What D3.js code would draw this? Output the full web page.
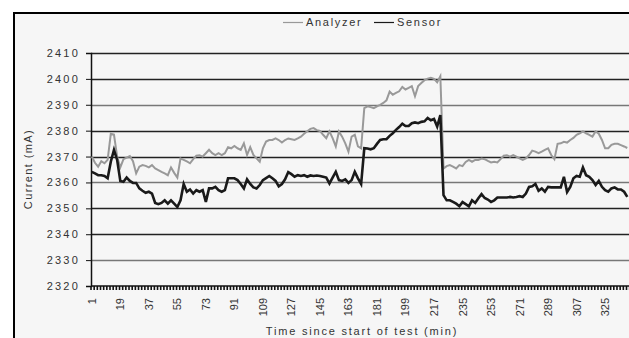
<!DOCTYPE html>
<html>
<head>
<meta charset="utf-8">
<script src="https://cdn.jsdelivr.net/npm/d3@7"></script>
<style>
  body { margin: 0; background: #fff; }
  svg text { font-family: "Liberation Sans", Arial, sans-serif; fill: #333; }
</style>
</head>
<body>
<svg id="chart" width="629" height="338"></svg>
<script>
// readings every 2 minutes, starting at minute 1
var analyzer = [
  2370, 2367.6, 2366.1, 2368.2, 2367.4, 2368.7, 2378.8, 2378.5, 2370, 2365.8,
  2369, 2369.6, 2370.2, 2368.2, 2363.5, 2366.1, 2366.7, 2366.4, 2365.8, 2366.7,
  2365.4, 2364.8, 2364.1, 2363.5, 2362.8, 2365.8, 2363.7, 2361.9, 2369.3, 2368.7,
  2368.1, 2367.4, 2369, 2370.3, 2370.5, 2370, 2371.3, 2372.6, 2371.3, 2370.6,
  2371.3, 2370.6, 2371.3, 2373.6, 2373.2, 2374.1, 2373.2, 2372.6, 2375.1, 2370.6,
  2373.6, 2370.6, 2369.3, 2368, 2373.2, 2375.8, 2376.4, 2376.4, 2377, 2376.4,
  2375.4, 2376.4, 2377, 2376.7, 2376.4, 2377, 2377.7, 2378.8, 2379.8, 2380.7,
  2381, 2380.2, 2379.9, 2378.4, 2377.1, 2379.7, 2377.1, 2373.9, 2379.7, 2377.7,
  2375.1, 2371.9, 2377.7, 2378.4, 2373.9, 2373.2, 2388.7, 2389.4, 2389.1, 2388.7,
  2389.4, 2390, 2390.7, 2391.7, 2395.1, 2393.9, 2394.6, 2395.2, 2396.9, 2395.9,
  2396.5, 2397.2, 2393.3, 2397.2, 2398.4, 2399.5, 2400.1, 2400.4, 2400, 2398.7,
  2401, 2365.4, 2366.3, 2366.7, 2366.1, 2365.4, 2366.7, 2366.3, 2367.9, 2368.7,
  2368, 2368.7, 2368.7, 2369.2, 2369, 2368.3, 2367.7, 2368, 2367.7, 2369,
  2370.3, 2370.5, 2370, 2370.6, 2370, 2369.3, 2368.7, 2369.3, 2370.6, 2372.3,
  2371.9, 2371.3, 2371.9, 2372.6, 2373.2, 2370.6, 2369, 2374.9, 2375.1, 2375.7,
  2375.4, 2376.4, 2377.2, 2378.4, 2379, 2379.7, 2379, 2378.4, 2377.7, 2379.7,
  2378.8, 2376.4, 2373.2, 2373.2, 2374.5, 2374.9, 2374.9, 2374.4, 2373.9, 2373.3
];
var sensor = [
  2364.1, 2363.5, 2362.8, 2362.8, 2362.5, 2361.6, 2368, 2372.6, 2368.7, 2360.6,
  2360.3, 2361.9, 2360.6, 2359.8, 2359.8, 2357.7, 2356.8, 2356, 2356.4, 2355.7,
  2352.1, 2351.6, 2352.1, 2353.1, 2351.8, 2353.1, 2351.8, 2350.5, 2353.1, 2359.4,
  2356.4, 2357.3, 2355.7, 2357, 2356.4, 2357, 2352.5, 2357.7, 2357.7, 2358.3,
  2357, 2356.4, 2357, 2361.6, 2361.6, 2361.6, 2360.9, 2359.4, 2357.7, 2361.2,
  2359.4, 2358.1, 2357.7, 2359, 2360.9, 2361.7, 2362.5, 2361.6, 2360.6, 2358.5,
  2359.4, 2361.2, 2364, 2363.2, 2362.2, 2362.8, 2362.5, 2362.8, 2362.2, 2362.7,
  2362.5, 2362.7, 2362.5, 2362.2, 2361.9, 2359.6, 2361.9, 2364.1, 2360.9, 2360.6,
  2361.2, 2359.8, 2360.9, 2364.1, 2361.6, 2359.4, 2373.2, 2373.1, 2372.8, 2373.2,
  2374.9, 2376.4, 2376.7, 2376.7, 2378, 2379, 2380.3, 2381.4, 2382.7, 2381.8,
  2381.8, 2382.9, 2383.2, 2382.9, 2383.4, 2383.6, 2384.9, 2384, 2384.5, 2381.6,
  2386, 2355.1, 2353.1, 2353.1, 2352.5, 2351.8, 2350.8, 2352.4, 2351.6, 2350.8,
  2353.1, 2352.1, 2353.9, 2355.5, 2354, 2353.4, 2352.5, 2353.1, 2354.2, 2354.2,
  2354.2, 2354.2, 2354.4, 2354.2, 2354.4, 2354.7, 2354.4, 2355.7, 2358.3, 2358.5,
  2359.4, 2356.8, 2357.7, 2356.4, 2358.3, 2358.1, 2358.1, 2358.1, 2358.1, 2362.2,
  2356.3, 2358.3, 2361.6, 2362.5, 2362.2, 2365.8, 2362.8, 2362.2, 2360.9, 2359,
  2360.6, 2358.3, 2357, 2356.4, 2357.7, 2358.1, 2357.3, 2357.3, 2356.4, 2354.4
];
var minutes = d3.range(1, 1 + 2 * analyzer.length, 2);
var xTickLabels = [1, 19, 37, 55, 73, 91, 109, 127, 145, 163, 181, 199, 217, 235, 253, 271, 289, 307, 325];
var yTickLabels = [2320, 2330, 2340, 2350, 2360, 2370, 2380, 2390, 2400, 2410];

var svg = d3.select('#chart');
var plotLeft = 91, plotTop = 53, plotBottom = 286, plotRight = 636;

// frame
svg.append('rect').attr('x', 14).attr('y', 13).attr('width', 640).attr('height', 340)
  .attr('fill', '#f6f6f6').attr('stroke', '#000').attr('stroke-width', 2);

var x = d3.scaleLinear().domain([0.5, 344.5]).range([plotLeft, plotRight]);
var y = d3.scaleLinear().domain([2320, 2410]).range([plotBottom, plotTop]);

// gridlines
svg.append('g').selectAll('line')
  .data(yTickLabels.slice(1))
  .enter().append('line')
  .attr('x1', plotLeft).attr('x2', 629)
  .attr('y1', function(d) { return Math.round(y(d)) + 0.5; })
  .attr('y2', function(d) { return Math.round(y(d)) + 0.5; })
  .attr('stroke', function(d, i) { return i % 3 === 0 ? '#777' : '#222'; })
  .attr('stroke-width', 1.3);

// y axis
var yAxis = svg.append('g').attr('transform', 'translate(' + plotLeft + ',0)')
  .call(d3.axisLeft(y).tickValues(yTickLabels).tickSize(5).tickPadding(6).tickFormat(d3.format('d')));
yAxis.select('.domain').attr('stroke', '#111').attr('stroke-width', 1.5);
yAxis.selectAll('.tick line').attr('stroke', '#111');
yAxis.selectAll('text').style('font-size', '11px').style('letter-spacing', '2.2px').attr('fill', '#333');

// x axis: dense category ticks
svg.append('line').attr('x1', plotLeft).attr('x2', 629).attr('y1', plotBottom).attr('y2', plotBottom)
  .attr('stroke', '#111').attr('stroke-width', 1.5);
svg.append('g').selectAll('line')
  .data(d3.range(0.5, 345, 2))
  .enter().append('line')
  .attr('x1', function(d) { return x(d); }).attr('x2', function(d) { return x(d); })
  .attr('y1', plotBottom).attr('y2', plotBottom + 4)
  .attr('stroke', '#111').attr('stroke-width', 1.6);

svg.append('g').selectAll('text')
  .data(xTickLabels)
  .enter().append('text')
  .attr('transform', function(d) { return 'translate(' + (x(d) + 4) + ',' + (plotBottom + 12) + ') rotate(-90)'; })
  .attr('text-anchor', 'end')
  .style('font-size', '11px')
  .text(function(d) { return d; });

// series
var line = d3.line()
  .x(function(d, i) { return x(minutes[i]); })
  .y(function(d) { return y(d); });

svg.append('path').datum(analyzer)
  .attr('d', line).attr('fill', 'none')
  .attr('stroke', '#999').attr('stroke-width', 2);
svg.append('path').datum(sensor)
  .attr('d', line).attr('fill', 'none')
  .attr('stroke', '#1a1a1a').attr('stroke-width', 2.6);

// axis titles
svg.append('text')
  .attr('transform', 'translate(32,169) rotate(-90)')
  .attr('text-anchor', 'middle')
  .style('font-size', '11px')
  .style('letter-spacing', '1.4px')
  .text('Current (mA)');
svg.append('text')
  .attr('x', 362).attr('y', 335)
  .attr('text-anchor', 'middle')
  .style('font-size', '11px')
  .style('letter-spacing', '1.8px')
  .text('Time since start of test (min)');

// legend
var legend = [
  { name: 'Analyzer', color: '#999', x: 283 },
  { name: 'Sensor', color: '#1a1a1a', x: 374 }
];
var lg = svg.append('g').selectAll('g').data(legend).enter().append('g');
lg.append('line')
  .attr('x1', function(d) { return d.x; }).attr('x2', function(d) { return d.x + 20; })
  .attr('y1', 22.5).attr('y2', 22.5)
  .attr('stroke', function(d) { return d.color; }).attr('stroke-width', 1.2);
lg.append('text')
  .attr('x', function(d) { return d.x + 23; }).attr('y', 26)
  .style('font-size', '11px')
  .style('letter-spacing', '1.7px')
  .text(function(d) { return d.name; });
</script>
</body>
</html>
